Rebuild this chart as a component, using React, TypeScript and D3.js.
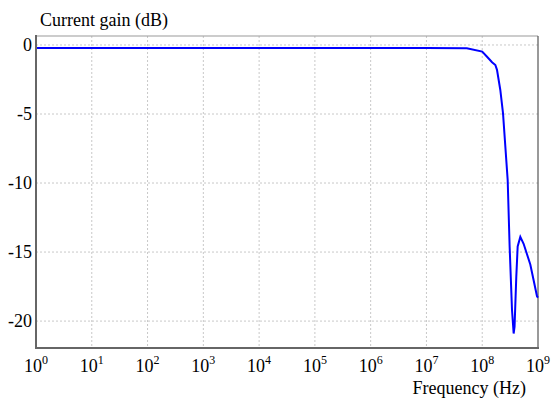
import React from "react";
import * as d3 from "d3";

const freqHz = [
  1, 10, 100, 1e3, 1e4, 1e5, 1e6, 1e7, 5.3e7, 1e8, 1.22e8, 1.5e8, 1.72e8, 1.84e8,
  2.11e8, 2.36e8, 2.86e8, 3.1e8, 3.42e8, 3.66e8, 3.8e8, 4.08e8, 4.32e8, 4.82e8,
  5.52e8, 7.28e8, 9.6e8, 1e9,
];
const gainDb = [
  -0.22, -0.22, -0.22, -0.22, -0.22, -0.22, -0.22, -0.22, -0.24, -0.48, -0.85, -1.25,
  -1.45, -1.8, -3.26, -4.95, -9.78, -14.6, -19.2, -20.9, -20.4, -16.8, -14.6, -13.9,
  -14.4, -15.9, -18.2, -18.3,
];
const xTickExponents = [0, 1, 2, 3, 4, 5, 6, 7, 8, 9];
const yTicks = [0, -5, -10, -15, -20];
const yLabel = "Current gain (dB)";
const xLabel = "Frequency (Hz)";

const W = 552;
const H = 400;
const M = { left: 36, right: 14, top: 36, bottom: 52 };

export default function App() {
  const x = d3.scaleLog().domain([1, 1e9]).range([M.left, W - M.right]);
  const y = d3.scaleLinear().domain([-21.95, 0.65]).range([H - M.bottom, M.top]);
  const pts: [number, number][] = freqHz.map((f, i) => [f, gainDb[i]]);
  const line = d3
    .line<[number, number]>()
    .x((d) => x(d[0]))
    .y((d) => y(d[1]))
    .curve(d3.curveLinear);
  const font = "Liberation Serif, Times New Roman, DejaVu Serif, serif";
  const x0 = M.left;
  const x1 = W - M.right;
  const y0 = M.top;
  const y1 = H - M.bottom;
  const ts = { fontFamily: font };
  return (
    <svg
      width={W}
      height={H}
      style={{ position: "absolute", left: 0, top: 0, background: "#fff", fontFamily: font }}
    >
      {xTickExponents.slice(1, -1).map((e) => (
        <line
          key={"gx" + e}
          x1={x(10 ** e)}
          x2={x(10 ** e)}
          y1={y0}
          y2={y1}
          stroke="#c8c8c8"
          strokeWidth={1}
          strokeDasharray="2,2"
        />
      ))}
      {yTicks.map((t) => (
        <line
          key={"gy" + t}
          x1={x0}
          x2={x1}
          y1={y(t)}
          y2={y(t)}
          stroke="#c8c8c8"
          strokeWidth={1}
          strokeDasharray="2,2"
        />
      ))}
      <line x1={x0} x2={x1} y1={y0} y2={y0} stroke="#999" strokeWidth={1} />
      <line x1={x1} x2={x1} y1={y0} y2={y1} stroke="#555" strokeWidth={1.2} />
      <path d={line(pts) || ""} fill="none" stroke="#0000ff" strokeWidth={2} />
      <line x1={x0} x2={x0} y1={y0 - 1} y2={y1 + 1} stroke="#666" strokeWidth={2} />
      <line x1={x0 - 1} x2={x1 + 1} y1={y1} y2={y1} stroke="#666" strokeWidth={2} />
      {yTicks.map((t) => (
        <text key={"yl" + t} x={32} y={y(t) + 6} textAnchor="end" fontSize={18} fill="#000" style={ts}>
          {t}
        </text>
      ))}
      {xTickExponents.map((e) => (
        <text key={"xl" + e} x={x(10 ** e)} y={372} textAnchor="middle" fontSize={18} fill="#000" style={ts}>
          10
          <tspan fontSize={12} dy={-8}>
            {e}
          </tspan>
        </text>
      ))}
      <text x={40} y={26} fontSize={18} fill="#000" style={ts}>
        {yLabel}
      </text>
      <text x={526} y={394} fontSize={18} textAnchor="end" fill="#000" style={ts}>
        {xLabel}
      </text>
    </svg>
  );
}
